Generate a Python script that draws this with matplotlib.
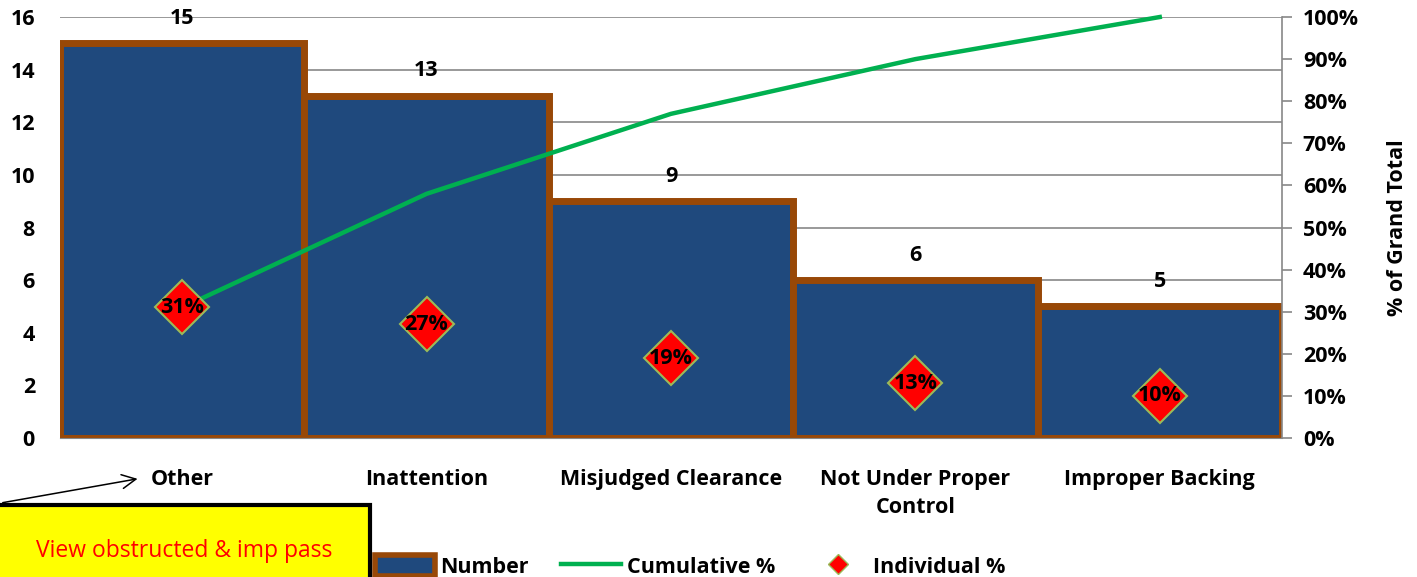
import matplotlib.pyplot as plt
from matplotlib.patches import Rectangle, FancyArrowPatch, Patch
from matplotlib.lines import Line2D
from matplotlib.ticker import PercentFormatter

plt.rcParams['font.family'] = ['Open Sans', 'DejaVu Sans']

categories = ['Other', 'Inattention', 'Misjudged Clearance', 'Not Under Proper\nControl', 'Improper Backing']
counts = [15, 13, 9, 6, 5]
cumulative_pct = [31, 58, 77, 90, 100]
individual_pct = [31, 27, 19, 13, 10]
individual_labels = ['31%', '27%', '19%', '13%', '10%']

bar_color = '#1F497D'
edge_color = '#984807'
line_color = '#00B050'
fs = 15.5

fig = plt.figure(figsize=(14.17, 5.77), dpi=100)
ax = fig.add_axes([0.0423, 0.2409, 0.8624, 0.7296])
x = list(range(len(categories)))

ax.bar(x, counts, width=1.0, color=bar_color, edgecolor=edge_color, linewidth=5, zorder=2)
ax.set_xlim(-0.5, len(categories) - 0.5)
ax.set_ylim(0, 16)
ax.set_yticks(range(0, 17, 2))
ax.set_axisbelow(True)
ax.yaxis.grid(True, color='#888888', linewidth=1.2)
ax.set_xticks(x)
ax.set_xticklabels(categories, fontsize=fs, fontweight='bold', linespacing=1.45)
ax.tick_params(axis='x', length=0, pad=22)
ax.tick_params(axis='y', length=0, labelsize=fs, pad=18)
for lab in ax.get_yticklabels():
    lab.set_fontweight('bold')
for s in ['left', 'top', 'right']:
    ax.spines[s].set_visible(False)
ax.spines['bottom'].set_color('#888888')

for xi, c in zip(x, counts):
    ax.text(xi, c + 0.55, str(c), ha='center', va='bottom', fontsize=fs, fontweight='bold')

ax2 = ax.twinx()
ax2.set_ylim(0, 100)
ax2.set_yticks(range(0, 101, 10))
ax2.yaxis.set_major_formatter(PercentFormatter(decimals=0))
ax2.tick_params(axis='y', labelsize=fs, color='#888888', length=7, width=1.2, pad=8)
for lab in ax2.get_yticklabels():
    lab.set_fontweight('bold')
for s in ['left', 'top', 'bottom']:
    ax2.spines[s].set_visible(False)
ax2.spines['right'].set_color('#888888')
ax2.spines['right'].set_linewidth(1.2)
ax2.set_ylabel('% of Grand Total', fontsize=fs, fontweight='bold', labelpad=20)

ax2.plot(x, cumulative_pct, color=line_color, linewidth=3.2, zorder=3, clip_on=False)
ax2.plot(x, individual_pct, linestyle='none', marker='D', markersize=28,
         markerfacecolor='red', markeredgecolor='#9BBB59', markeredgewidth=1.5, zorder=4)
for xi, p, lab in zip(x, individual_pct, individual_labels):
    ax2.text(xi, p, lab, ha='center', va='center', fontsize=fs, fontweight='bold', zorder=5)

handles = [
    Patch(facecolor=bar_color, edgecolor=edge_color, linewidth=4),
    Line2D([0], [0], color=line_color, linewidth=3.2),
    Line2D([0], [0], linestyle='none', marker='D', markersize=10,
           markerfacecolor='red', markeredgecolor='#9BBB59'),
]
leg = fig.legend(handles, ['Number', 'Cumulative %', 'Individual %'], loc='lower center',
                 bbox_to_anchor=(0.487, -0.035), ncol=3, frameon=False,
                 prop={'size': fs, 'weight': 'bold'}, handlelength=2.8, handleheight=1.1,
                 handletextpad=0.25, columnspacing=1.5)

box = Rectangle((-0.01, -0.05), 0.271, 0.175, transform=fig.transFigure,
                facecolor='yellow', edgecolor='black', linewidth=3, zorder=6)
fig.add_artist(box)
fig.text(0.13, 0.045, 'View obstructed & imp pass', color='red', fontsize=16.5,
         ha='center', va='center', zorder=7)
arrow = FancyArrowPatch((0.0, 0.128), (0.099, 0.171), transform=fig.transFigure,
                        arrowstyle='->', mutation_scale=25, linewidth=1.1, color='black')
fig.add_artist(arrow)

fig.savefig('out.png', dpi=100)
